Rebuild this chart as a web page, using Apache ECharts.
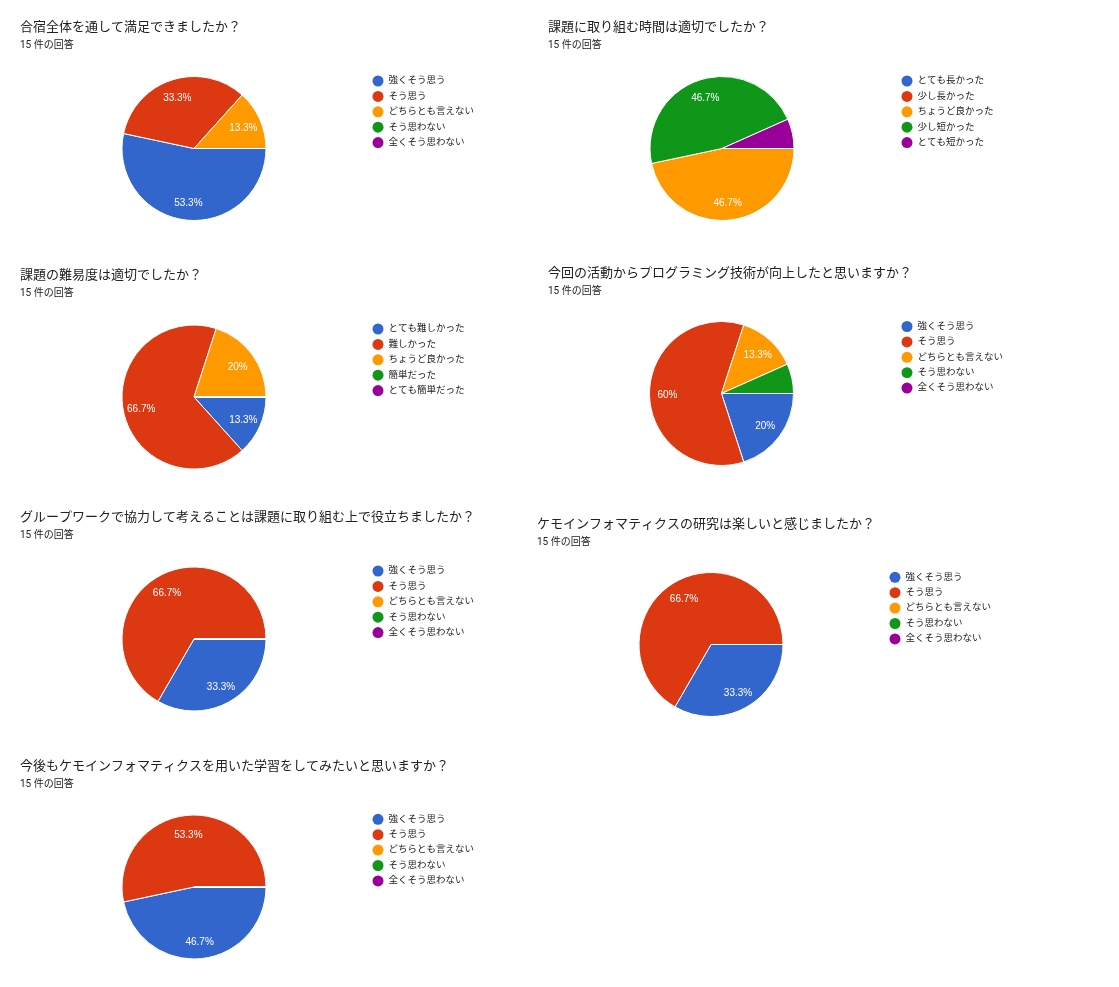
<!DOCTYPE html>
<html><head><meta charset="utf-8">
<script src="https://cdn.jsdelivr.net/npm/echarts@6/dist/echarts.min.js"></script>
<style>html,body{margin:0;padding:0;background:#fff}#c{width:1119px;height:987px}</style>
</head><body><div id="c"></div>
<script>
// ---- data ----
const agreeCats = ['強くそう思う','そう思う','どちらとも言えない','そう思わない','全くそう思わない'];
const timeCats  = ['とても長かった','少し長かった','ちょうど良かった','少し短かった','とても短かった'];
const diffCats  = ['とても難しかった','難しかった','ちょうど良かった','簡単だった','とても簡単だった'];

const questions = [
  '合宿全体を通して満足できましたか？',
  '課題に取り組む時間は適切でしたか？',
  '課題の難易度は適切でしたか？',
  '今回の活動からプログラミング技術が向上したと思いますか？',
  'グループワークで協力して考えることは課題に取り組む上で役立ちましたか？',
  'ケモインフォマティクスの研究は楽しいと感じましたか？',
  '今後もケモインフォマティクスを用いた学習をしてみたいと思いますか？'
];
const responseLabel = '15 件の回答';

const q1Counts = [8, 5, 2, 0, 0];
const q2Counts = [0, 0, 7, 7, 1];
const q3Counts = [2, 10, 3, 0, 0];
const q4Counts = [3, 9, 2, 1, 0];
const q5Counts = [5, 10, 0, 0, 0];
const q6Counts = [5, 10, 0, 0, 0];
const q7Counts = [7, 8, 0, 0, 0];

const palette = ['#3366cc','#dc3912','#ff9900','#109618','#990099'];

// ---- layout ----
const panels = [
  {cats: agreeCats, counts: q1Counts, tx: 20,  ty: 28,  cx: 194,   cy: 148.5, lx: 372.5, ly: 81},
  {cats: timeCats,  counts: q2Counts, tx: 548, ty: 28,  cx: 722,   cy: 148.5, lx: 901.5, ly: 81},
  {cats: diffCats,  counts: q3Counts, tx: 20,  ty: 276, cx: 194,   cy: 397,   lx: 372.5, ly: 329},
  {cats: agreeCats, counts: q4Counts, tx: 548, ty: 274, cx: 721.5, cy: 393.5, lx: 901.5, ly: 326.5},
  {cats: agreeCats, counts: q5Counts, tx: 20,  ty: 518, cx: 194,   cy: 639,   lx: 372.5, ly: 571},
  {cats: agreeCats, counts: q6Counts, tx: 537, ty: 525, cx: 711,   cy: 644.5, lx: 889.5, ly: 577.3},
  {cats: agreeCats, counts: q7Counts, tx: 20,  ty: 767, cx: 194,   cy: 887,   lx: 372.5, ly: 819.3}
];

const FONT = "Roboto, 'Noto Sans CJK JP', 'Noto Sans', sans-serif";
const R = 72;

const title = [], legend = [], series = [];
panels.forEach((p, k) => {
  title.push({
    text: questions[k], subtext: responseLabel,
    left: p.tx, top: p.ty - 8, padding: 0, itemGap: 3,
    textStyle: {fontFamily: FONT, fontSize: 13, fontWeight: 'normal', color: '#202124', lineHeight: 16},
    subtextStyle: {fontFamily: FONT, fontSize: 10, color: '#202124', lineHeight: 12}
  });
  legend.push({
    orient: 'vertical', left: p.lx, top: p.ly - 6, padding: 0,
    itemWidth: 11, itemHeight: 11, itemGap: 3.4, icon: 'circle', selectedMode: false,
    itemStyle: {borderWidth: 0},
    textStyle: {fontFamily: FONT, fontSize: 9.5, color: '#222222', lineHeight: 12, padding: [0,0,0,0]},
    data: p.cats.map((n, i) => ({name: n, itemStyle: {color: palette[i], borderWidth: 0}}))
  });
  const total = p.counts.reduce((a, b) => a + b, 0);
  const data = p.cats.map((n, i) => ({name: n, value: p.counts[i], itemStyle: {color: palette[i]}}));
  series.push({
    type: 'pie', center: [p.cx, p.cy], radius: [0, R], startAngle: 0, clockwise: true,
    silent: true, animation: false,
    itemStyle: {borderColor: '#ffffff', borderWidth: 1},
    label: {show: false}, labelLine: {show: false},
    data: data
  });
  series.push({
    type: 'pie', center: [p.cx, p.cy], radius: [30, R], startAngle: 0, clockwise: true,
    silent: true, animation: false,
    itemStyle: {color: 'rgba(0,0,0,0)', borderWidth: 0},
    label: {
      show: true, position: 'inside', color: '#ffffff', offset: [0, 1.5],
      fontFamily: "'Liberation Sans', Arial, sans-serif", fontSize: 10,
      formatter: prm => {
        const v = prm.value / total * 100;
        if (v < 10) return '';
        return (Math.round(v * 10) / 10) + '%';
      }
    },
    labelLine: {show: false},
    data: p.cats.map((n, i) => ({name: n, value: p.counts[i]}))
  });
});

const chart = echarts.init(document.getElementById('c'));
chart.setOption({backgroundColor: '#ffffff', animation: false, title, legend, series});
</script>
</body></html>
